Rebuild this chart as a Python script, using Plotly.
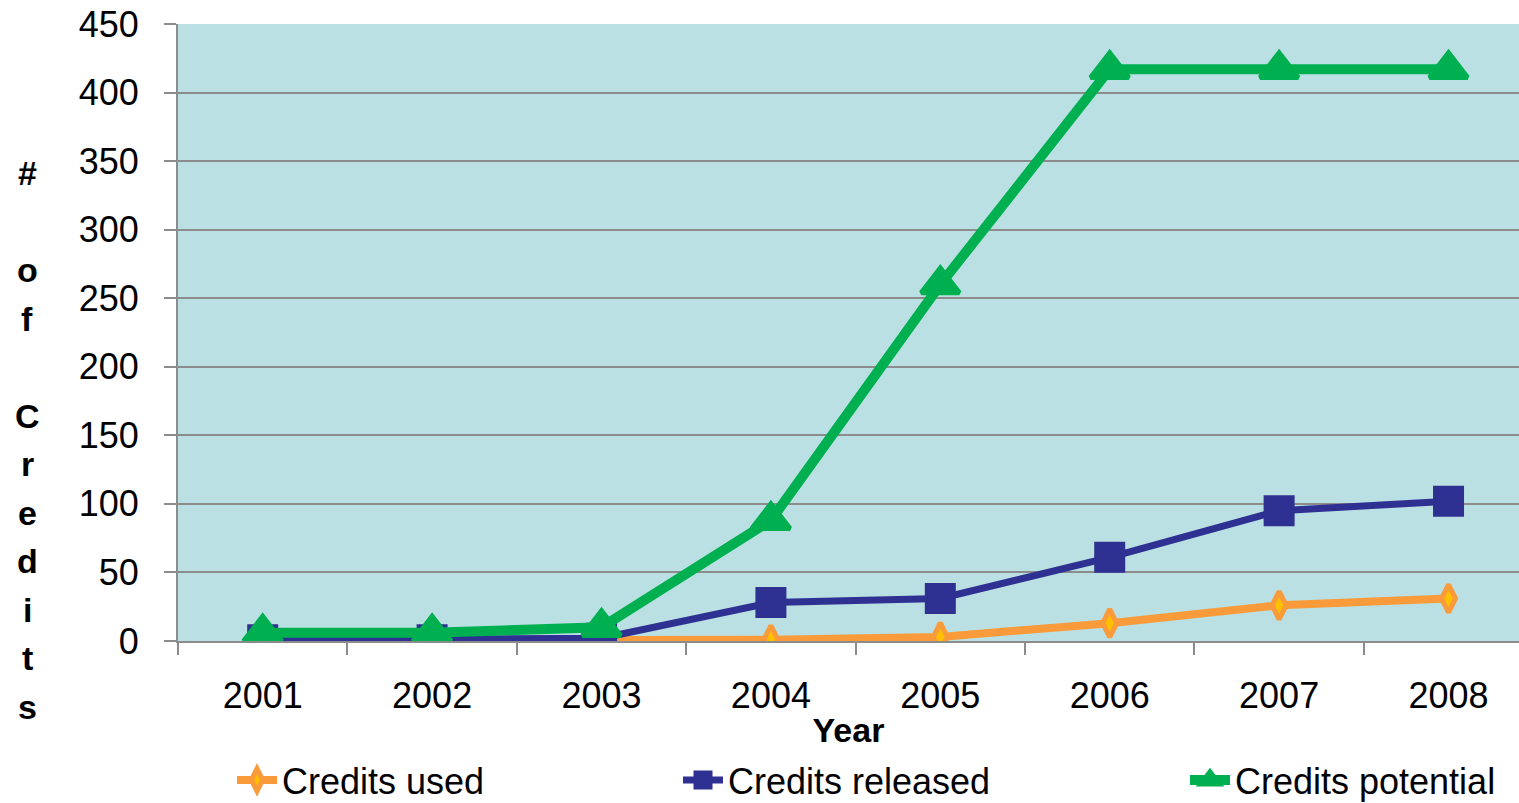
import plotly.graph_objects as go

years = ["2001", "2002", "2003", "2004", "2005", "2006", "2007", "2008"]
credits_used = [0, 0, 0, 1, 3, 13, 26, 31]
credits_released = [1, 1, 2, 28, 31, 61, 95, 102]
credits_potential = [6, 6, 10, 88, 260, 417, 417, 417]

y_ticks = [0, 50, 100, 150, 200, 250, 300, 350, 400, 450]
y_title_chars = ["#", "", "o", "f", "", "C", "r", "e", "d", "i", "t", "s"]

ORANGE = "#F99B3B"
YELLOW = "#FFC000"
BLUE = "#2E3192"
GREEN = "#00B050"
BG = "#BAE0E3"
GRID = "#8C8C8C"
FONT = "Liberation Sans, Arial, sans-serif"

W, H = 1519, 803
L, T, B = 178, 24, 162
plot_h = H - T - B

fig = go.Figure()
fig.add_trace(go.Scatter(
    x=years, y=credits_used, name="Credits used", mode="lines+markers",
    line=dict(color=ORANGE, width=8),
    marker=dict(symbol="diamond-tall", size=20, color=YELLOW, line=dict(color=ORANGE, width=5)),
    legend="legend"))
fig.add_trace(go.Scatter(
    x=years, y=credits_released, name="Credits released", mode="lines+markers",
    line=dict(color=BLUE, width=7),
    marker=dict(symbol="square", size=28, color=BLUE, line=dict(color=BLUE, width=3)),
    legend="legend2"))
fig.add_trace(go.Scatter(
    x=years, y=credits_potential, name="Credits potential", mode="lines+markers",
    line=dict(color=GREEN, width=10),
    marker=dict(symbol="triangle-up", size=33, color=GREEN, line=dict(color=GREEN, width=5)),
    legend="legend3"))

annotations = []
for i, ch in enumerate(y_title_chars):
    if not ch:
        continue
    pix = 173 + 48.5 * i
    annotations.append(dict(
        text=ch, xref="paper", yref="paper",
        x=(27 - L) / (W - L), y=(H - B - pix) / plot_h,
        xanchor="center", yanchor="middle", showarrow=False,
        font=dict(family=FONT, size=34, color="black", weight="bold")))

legend_common = dict(orientation="h", xref="container", yref="container",
                     yanchor="middle", font=dict(family=FONT, size=36, color="black"),
                     bgcolor="rgba(0,0,0,0)", itemwidth=40)

fig.update_layout(
    width=W, height=H,
    margin=dict(l=L, r=0, t=T, b=B),
    paper_bgcolor="white", plot_bgcolor=BG,
    font=dict(family=FONT, size=36, color="black"),
    xaxis=dict(type="category", range=[-0.5, 7.416], tickson="boundaries",
               ticks="outside", ticklen=12, tickcolor=GRID, tickwidth=2,
               showline=True, linecolor=GRID, linewidth=2, showgrid=False,
               tickfont=dict(size=36), ticklabelstandoff=22,
               title=dict(text="<b>Year</b>", font=dict(size=34), standoff=3)),
    yaxis=dict(range=[0, 450], tickvals=y_ticks, ticks="outside", ticklen=12,
               tickcolor=GRID, tickwidth=2, showline=True, linecolor=GRID, linewidth=2,
               showgrid=True, gridcolor=GRID, gridwidth=2, zeroline=False,
               tickfont=dict(size=36), ticklabelstandoff=18),
    legend=dict(x=232 / W, y=1 - 780 / H, **legend_common),
    legend2=dict(x=678 / W, y=1 - 780 / H, **legend_common),
    legend3=dict(x=1185 / W, y=1 - 780 / H, **legend_common),
    annotations=annotations,
    showlegend=True,
)

fig.write_html("out.html")
